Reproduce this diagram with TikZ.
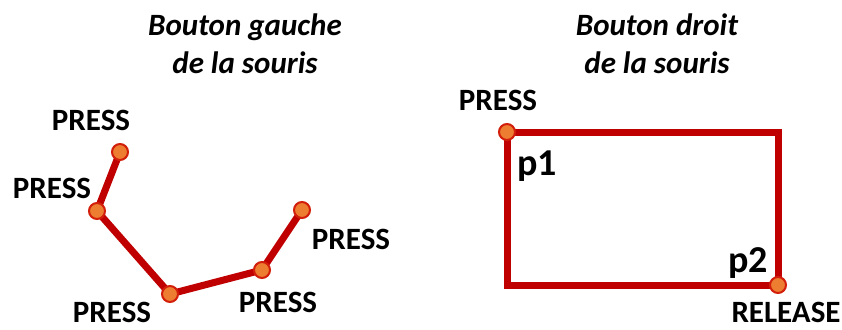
\documentclass[tikz,border=0pt]{standalone}
\usepackage{fontspec}
\setmainfont{Carlito}
\begin{document}
\begin{tikzpicture}[x=1pt,y=-1pt,
  title/.style={font=\fontsize{31}{38}\selectfont\bfseries\itshape, align=center, inner sep=0pt},
  lbl/.style={font=\fontsize{31}{32}\selectfont\bfseries, inner sep=0pt},
  plbl/.style={font=\fontsize{38}{40}\selectfont\bfseries, inner sep=0pt},
  trace/.style={draw={rgb,255:red,192;green,0;blue,0}, line width=7pt, line join=round},
  dot/.style={circle, fill={rgb,255:red,237;green,125;blue,49}, draw={rgb,255:red,210;green,30;blue,10}, line width=2pt, minimum size=16pt, inner sep=0pt}
]
\useasboundingbox (0,0) rectangle (842,329);

% left button: polyline of presses
\node[title] (tl) at (245,44) {Bouton gauche\\de la souris};
\coordinate (a1) at (120,152);
\coordinate (a2) at (97,211);
\coordinate (a3) at (170,294);
\coordinate (a4) at (262,270);
\coordinate (a5) at (302,210);
\draw[trace] (a1) -- (a2) -- (a3) -- (a4) -- (a5);
\foreach \p in {a1,a2,a3,a4,a5} \node[dot] at (\p) {};
\node[lbl] (la1) at (91,120) {PRESS};
\node[lbl] (la2) at (52,188) {PRESS};
\node[lbl] (la3) at (112,312) {PRESS};
\node[lbl] (la4) at (278,302) {PRESS};
\node[lbl] (la5) at (351,239) {PRESS};

% right button: drag rectangle
\node[title] (tr) at (657,44) {Bouton droit\\de la souris};
\coordinate (b1) at (507,132);
\coordinate (b2) at (778,285);
\draw[trace, line join=miter] (b1) rectangle (b2);
\node[dot] (d1) at (b1) {};
\node[dot] (d2) at (b2) {};
\node[lbl] (lb1) at (498,100) {PRESS};
\node[lbl] (lb2) at (786,312) {RELEASE};
\node[plbl] (p1) at (537,166) {p1};
\node[plbl] (p2) at (748,263) {p2};
\end{tikzpicture}
\end{document}
